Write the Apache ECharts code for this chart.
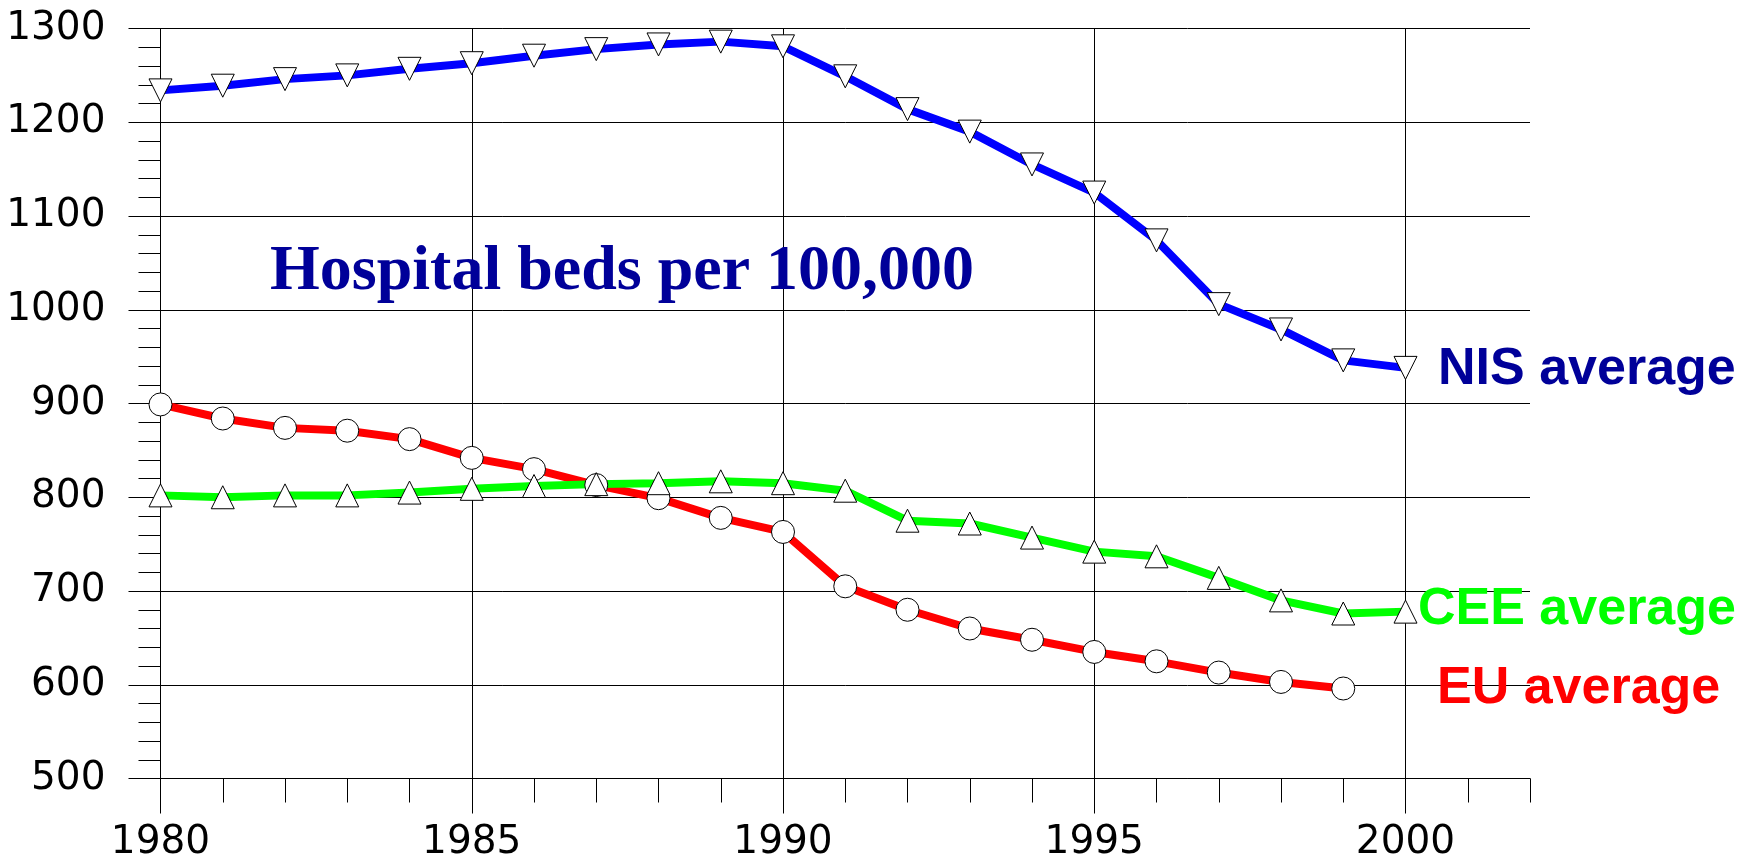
<!DOCTYPE html>
<html>
<head>
<meta charset="utf-8">
<script src="https://cdn.jsdelivr.net/npm/echarts@6/dist/echarts.min.js"></script>
<style>
html,body{margin:0;padding:0;background:#fff;}
#chart{width:1761px;height:863px;}
</style>
</head>
<body>
<div id="chart"></div>
<script>
const years = ['1980','1981','1982','1983','1984','1985','1986','1987','1988','1989','1990','1991','1992','1993','1994','1995','1996','1997','1998','1999','2000','2001','2002'];
const nisAverage = [1234,1239,1246,1250,1257,1263,1271,1278,1283,1286,1281,1249,1214,1190,1155,1125,1074,1006,979,946,938,null,null];
const ceeAverage = [802,800,802,802,805,809,812,814,815,817,815,807,775,772,757,742,737,714,690,676,678,null,null];
const euAverage = [899,884,874,871,862,842,830,813,799,778,763,705,680,660,648,635,625,613,603,596,null,null,null];
const yTicks = {min:500, max:1300, step:100};
const chartTitle = 'Hospital beds per 100,000';
const seriesLabels = ['NIS average','CEE average','EU average'];

const chart = echarts.init(document.getElementById('chart'), null, {renderer:'canvas'});
const isMajor = (i) => i % 5 === 0 && i <= 20;
const font = '"Liberation Sans", Arial, sans-serif';
const tickFont = '"DejaVu Sans", "Liberation Sans", Arial, sans-serif';
function mk(name, data, color, symbol, rot){
  return {
    name, type:'line', data, xAxisIndex:0, yAxisIndex:0,
    symbol, symbolSize:23, symbolRotate:rot, showAllSymbol:true,
    lineStyle:{color, width:8},
    itemStyle:{color:'#fff', borderColor:'#000', borderWidth:1},
    emphasis:{disabled:true}, connectNulls:false
  };
}
chart.setOption({
  animation:false,
  backgroundColor:'#fff',
  grid:{left:160.5, right:231, top:28.5, bottom:84.5, containLabel:false},
  xAxis:[
    {type:'category', data:years, boundaryGap:false, position:'bottom',
     axisLine:{show:true, lineStyle:{color:'#000', width:1}},
     axisTick:{show:true, interval:0, length:24, lineStyle:{color:'#000', width:1}},
     axisLabel:{show:false}, splitLine:{show:false}},
    {type:'category', data:years, boundaryGap:false, position:'bottom',
     axisLine:{show:false},
     axisTick:{show:true, interval:(i)=>isMajor(i), length:35, lineStyle:{color:'#000', width:1}},
     axisLabel:{show:true, interval:(i)=>isMajor(i), margin:45, color:'#000', fontSize:39, fontFamily:tickFont},
     splitLine:{show:true, interval:(i)=>isMajor(i), lineStyle:{color:'#000', width:1}}}
  ],
  yAxis:{type:'value', min:yTicks.min, max:yTicks.max, interval:yTicks.step,
    axisLine:{show:true, lineStyle:{color:'#000', width:1}},
    axisTick:{show:true, length:32, lineStyle:{color:'#000', width:1}},
    minorTick:{show:true, splitNumber:5, length:22, lineStyle:{color:'#000', width:1}},
    axisLabel:{margin:55, color:'#000', fontSize:39, fontFamily:tickFont, formatter:(v)=>String(v)},
    splitLine:{show:true, lineStyle:{color:'#000', width:1}}},
  series:[
    mk(seriesLabels[2], euAverage, '#ff0000', 'circle', 0),
    mk(seriesLabels[1], ceeAverage, '#00ff00', 'triangle', 0),
    mk(seriesLabels[0], nisAverage, '#0000ff', 'triangle', 180)
  ],
  graphic:[
    {type:'text', x:270, y:272, z:100,
     style:{text:chartTitle, font:'bold 64px "Liberation Serif", "Times New Roman", serif', fill:'#000099', textVerticalAlign:'middle'}},
    {type:'text', x:1438, y:370, z:100, style:{text:seriesLabels[0], font:'bold 52px '+font, fill:'#000099', textVerticalAlign:'middle'}},
    {type:'text', x:1418, y:610, z:100, style:{text:seriesLabels[1], font:'bold 52px '+font, fill:'#00ff00', textVerticalAlign:'middle'}},
    {type:'text', x:1437, y:689, z:100, style:{text:seriesLabels[2], font:'bold 52px '+font, fill:'#ff0000', textVerticalAlign:'middle'}}
  ]
});
</script>
</body>
</html>
